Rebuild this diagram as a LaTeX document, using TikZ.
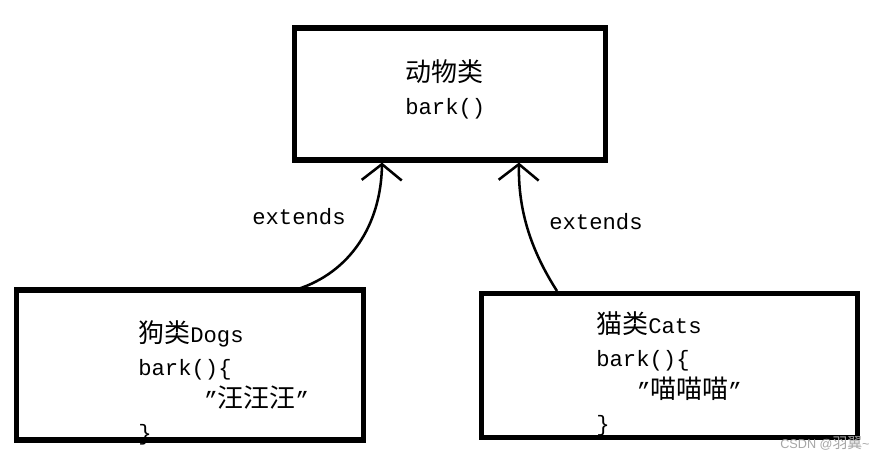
\documentclass[tikz,border=0pt]{standalone}
\usepackage{fontspec}
\setmainfont{Liberation Mono}
\newfontfamily\cjk[Scale=1.17]{Noto Sans CJK SC}
\newfontfamily\wmfont{Liberation Sans}
\usetikzlibrary{arrows.meta}
\begin{document}
\begin{tikzpicture}[x=0.025cm,y=-0.025cm,
  font=\fontsize{15.8}{23}\selectfont,
  classbox/.style={draw,line width=3.6pt,inner sep=0pt},
  codetext/.style={anchor=base west,inner sep=0pt,align=left},
  extarrow/.style={line width=1.8pt,-{Straight Barb[length=0.4cm,width=1.0cm,line width=1.8pt]}}]
  \useasboundingbox (0,0) rectangle (878,460);
  % boxes
  \node[classbox,minimum width=7.75cm,minimum height=3.3cm] (animal) at (450,94) {};
  \node[classbox,minimum width=8.65cm,minimum height=3.75cm] (dog) at (190,365) {};
  \node[classbox,minimum width=9.42cm,minimum height=3.62cm] (cat) at (669.5,365.5) {};

  % base anchor = baseline of the last line
  \node[codetext] (animaltext) at (405,114) {{\cjk 动物类}\\bark()};
  \node[codetext] (dogtext) at (138,440) {{\cjk 狗类}Dogs\\bark()\{\\\hspace{47pt}”{\cjk 汪汪汪}”\\\}};
  \node[codetext] (cattext) at (596,431) {{\cjk 猫类}Cats\\bark()\{\\\hspace{29pt}”{\cjk 喵喵喵}”\\\}};

  % inheritance arrows
  \coordinate (dogstart) at (298,289);
  \coordinate (catstart) at (557,291);
  \draw[extarrow] (dogstart) .. controls (350,272) and (381,225) .. (animal.south -| 382,0);
  \draw[extarrow] (catstart) .. controls (532,252) and (518,212) .. (animal.south -| 519,0);
  \node[codetext] (dogext) at (252,224) {extends};
  \node[codetext] (catext) at (549,229) {extends};

  \node[anchor=base west,inner sep=0pt,text=gray!70,font=\wmfont\fontsize{9}{10}\selectfont] (mark) at (780,448) {CSDN @{\cjk 羽翼}\textasciitilde};
\end{tikzpicture}
\end{document}
